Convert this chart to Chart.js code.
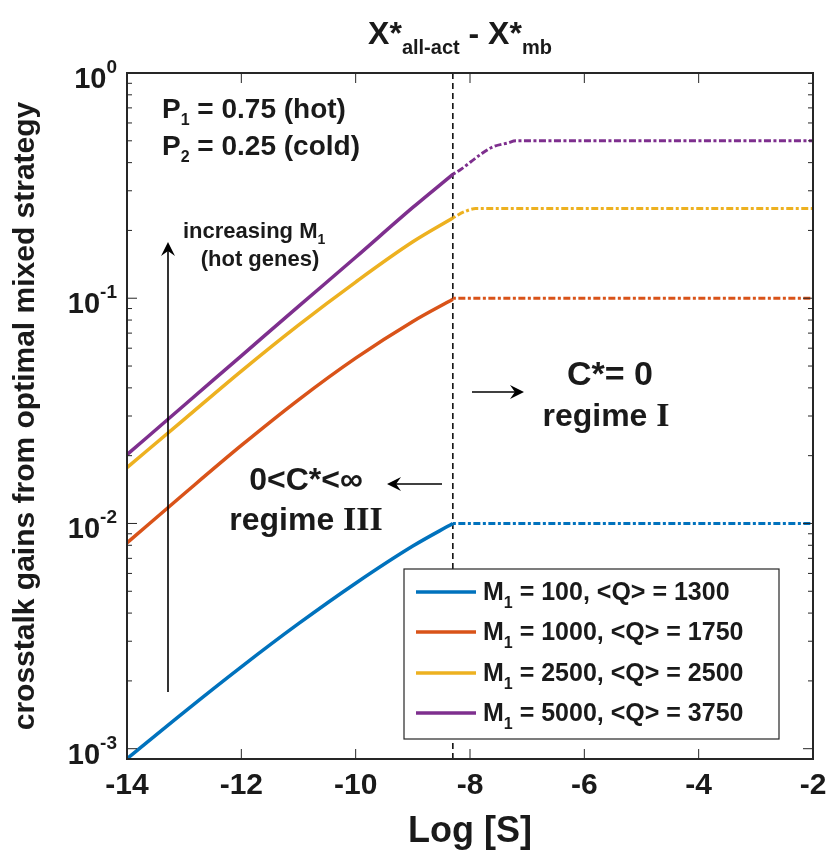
<!DOCTYPE html>
<html>
<head>
<meta charset="utf-8">
<script src="https://cdn.jsdelivr.net/npm/chart.js@4.4.1/dist/chart.umd.min.js"></script>
<style>
  html, body { margin: 0; padding: 0; background: #fff; }
  #wrap { width: 827px; height: 857px; }
</style>
</head>
<body>
<div id="wrap"><canvas id="gainsChart" width="827" height="857"></canvas></div>
<script>
// Log[S] grid for the 0 < C* < inf branch (solid)
const logS = [-14, -13, -12, -11, -10, -9, -8.3];
const gainM100 = [0.000903, 0.001455, 0.00231, 0.00359, 0.00543, 0.00794, 0.01];
const gainM1000 = [0.0082, 0.01355, 0.0222, 0.0354, 0.0542, 0.0789, 0.099];
const gainM2500 = [0.0177, 0.029, 0.0475, 0.076, 0.118, 0.178, 0.227];
const gainM5000 = [0.0202, 0.0335, 0.0555, 0.092, 0.152, 0.253, 0.355];

// C* = 0 branch (dotted)
const logSFlatM100 = [-8.3, -2];
const flatM100 = [0.01, 0.01];
const logSFlatM1000 = [-8.3, -2];
const flatM1000 = [0.1, 0.1];
const logSFlatM2500 = [-8.3, -8.1, -7.9, -2];
const flatM2500 = [0.227, 0.242, 0.25, 0.25];
const logSFlatM5000 = [-8.3, -8.175, -7.825, -7.6, -7.34, -7.2, -2];
const flatM5000 = [0.355, 0.371, 0.433, 0.47, 0.489, 0.5, 0.5];

const m1Values = [100, 1000, 2500, 5000];
const qValues = [1300, 1750, 2500, 3750];
const xTicks = [-14, -12, -10, -8, -6, -4, -2];
const yTickExponents = [-3, -2, -1, 0];
const switchLogS = -8.3;

const colors = ["#0072BD", "#D95319", "#EDB120", "#7E2F8E"];
const SANS = '"Liberation Sans", Arial, sans-serif';
const SERIF = '"Liberation Serif", "Times New Roman", serif';
const AXIS_COLOR = "#262626";

const toPoints = (xs, ys) => xs.map((x, i) => ({ x, y: ys[i] }));

const solidSeries = [gainM100, gainM1000, gainM2500, gainM5000];
const dottedSeries = [
    [logSFlatM100, flatM100],
    [logSFlatM1000, flatM1000],
    [logSFlatM2500, flatM2500],
    [logSFlatM5000, flatM5000],
];

const datasets = [];
solidSeries.forEach((ys, i) => {
    datasets.push({
        label: `M1 = ${m1Values[i]}, <Q> = ${qValues[i]}`,
        data: toPoints(logS, ys),
        borderColor: colors[i],
        borderWidth: 3.5,
        cubicInterpolationMode: "monotone",
        pointRadius: 0,
    });
});
dottedSeries.forEach(([xs, ys], i) => {
    datasets.push({
        label: "",
        data: toPoints(xs, ys),
        borderColor: colors[i],
        borderWidth: 3,
        borderDash: [3, 2.5, 7, 2.5],
        cubicInterpolationMode: "monotone",
        pointRadius: 0,
    });
});

// texto con subíndices / superíndices
function drawRich(ctx, segs, x, y, align) {
    let w = 0;
    segs.forEach((s) => {
        ctx.font = s.font;
        s.w = ctx.measureText(s.text).width;
        w += s.w;
    });
    let cx = align === "center" ? x - w / 2 : align === "right" ? x - w : x;
    ctx.textAlign = "left";
    ctx.textBaseline = "alphabetic";
    segs.forEach((s) => {
        ctx.font = s.font;
        ctx.fillText(s.text, cx, y + (s.dy || 0));
        cx += s.w;
    });
}

function arrowHead(ctx, tipX, tipY, dx, dy, len, half) {
    // punta tipo "stealth"
    const px = -dy, py = dx;
    ctx.beginPath();
    ctx.moveTo(tipX, tipY);
    ctx.lineTo(tipX - dx * len + px * half, tipY - dy * len + py * half);
    ctx.lineTo(tipX - dx * len * 0.65, tipY - dy * len * 0.65);
    ctx.lineTo(tipX - dx * len - px * half, tipY - dy * len - py * half);
    ctx.closePath();
    ctx.fill();
}

function arrow(ctx, x1, y1, x2, y2) {
    const L = Math.hypot(x2 - x1, y2 - y1);
    const dx = (x2 - x1) / L, dy = (y2 - y1) / L;
    ctx.strokeStyle = "#000";
    ctx.fillStyle = "#000";
    ctx.lineWidth = 1.6;
    ctx.beginPath();
    ctx.moveTo(x1, y1);
    ctx.lineTo(x2 - dx * 8, y2 - dy * 8);
    ctx.stroke();
    arrowHead(ctx, x2, y2, dx, dy, 14, 7);
}

const frame = {
    id: "frame",
    beforeDatasetsDraw(chart) {
        const { ctx, chartArea: a, scales } = chart;
        const xs = scales.x.getPixelForValue(switchLogS);
        ctx.save();
        ctx.strokeStyle = "#000";
        ctx.lineWidth = 1.5;
        ctx.setLineDash([6, 4]);
        ctx.beginPath();
        ctx.moveTo(xs, a.top);
        ctx.lineTo(xs, a.bottom);
        ctx.stroke();
        ctx.restore();
    },
    afterDatasetsDraw(chart) {
        const { ctx, chartArea: a, scales } = chart;
        const x = scales.x, y = scales.y;
        ctx.save();

        // caja de ejes
        ctx.strokeStyle = AXIS_COLOR;
        ctx.lineWidth = 2;
        ctx.strokeRect(a.left, a.top, a.right - a.left, a.bottom - a.top);

        // marcas hacia dentro
        ctx.lineWidth = 1;
        ctx.beginPath();
        xTicks.forEach((v) => {
            const px = x.getPixelForValue(v);
            ctx.moveTo(px, a.bottom); ctx.lineTo(px, a.bottom - 10);
            ctx.moveTo(px, a.top); ctx.lineTo(px, a.top + 10);
        });
        yTickExponents.forEach((e) => {
            for (let m = 1; m <= 9; m++) {
                const v = m * Math.pow(10, e);
                if (v < y.min || v > y.max) continue;
                const py = y.getPixelForValue(v);
                const len = m === 1 ? 10 : 5;
                ctx.moveTo(a.left, py); ctx.lineTo(a.left + len, py);
                ctx.moveTo(a.right, py); ctx.lineTo(a.right - len, py);
            }
        });
        ctx.stroke();

        ctx.fillStyle = "#1a1a1a";
        // etiquetas del eje x
        ctx.font = `bold 30px ${SANS}`;
        ctx.textAlign = "center";
        ctx.textBaseline = "alphabetic";
        xTicks.forEach((v) => ctx.fillText(String(v), x.getPixelForValue(v), 794));

        // etiquetas del eje y (10^n)
        yTickExponents.forEach((e) => {
            const py = y.getPixelForValue(Math.pow(10, e));
            drawRich(ctx, [
                { text: "10", font: `bold 29px ${SANS}` },
                { text: String(e), font: `bold 19px ${SANS}`, dy: -15 },
            ], 117, py + 15, "right");
        });

        // títulos
        ctx.font = `bold 36px ${SANS}`;
        ctx.textAlign = "center";
        ctx.fillText("Log [S]", (a.left + a.right) / 2, 842);

        ctx.save();
        ctx.translate(34, (a.top + a.bottom) / 2);
        ctx.rotate(-Math.PI / 2);
        ctx.font = `bold 30px ${SANS}`;
        ctx.textAlign = "center";
        ctx.fillText("crosstalk gains from optimal mixed strategy", 0, 0);
        ctx.restore();

        drawRich(ctx, [
            { text: "X*", font: `bold 32px ${SANS}` },
            { text: "all-act", font: `bold 20px ${SANS}`, dy: 10 },
            { text: " - X*", font: `bold 32px ${SANS}` },
            { text: "mb", font: `bold 20px ${SANS}`, dy: 10 },
        ], 460, 44, "center");

        // anotaciones
        ctx.fillStyle = "#1a1a1a";
        drawRich(ctx, [
            { text: "P", font: `bold 28px ${SANS}` },
            { text: "1", font: `bold 16px ${SANS}`, dy: 7 },
            { text: " = 0.75 (hot)", font: `bold 28px ${SANS}` },
        ], 162, 118, "left");
        drawRich(ctx, [
            { text: "P", font: `bold 28px ${SANS}` },
            { text: "2", font: `bold 16px ${SANS}`, dy: 7 },
            { text: " = 0.25 (cold)", font: `bold 28px ${SANS}` },
        ], 162, 155, "left");

        drawRich(ctx, [
            { text: "increasing M", font: `bold 22px ${SANS}` },
            { text: "1", font: `bold 14px ${SANS}`, dy: 6 },
        ], 183, 238, "left");
        drawRich(ctx, [{ text: "(hot genes)", font: `bold 22px ${SANS}` }], 260, 266, "center");

        drawRich(ctx, [{ text: "C*= 0", font: `bold 34px ${SANS}` }], 610, 385, "center");
        drawRich(ctx, [
            { text: "regime ", font: `bold 32px ${SANS}` },
            { text: "I", font: `bold 34px ${SERIF}` },
        ], 606, 426, "center");

        drawRich(ctx, [{ text: "0<C*<\u221E", font: `bold 32px ${SANS}` }], 306, 490, "center");
        drawRich(ctx, [
            { text: "regime ", font: `bold 32px ${SANS}` },
            { text: "III", font: `bold 34px ${SERIF}` },
        ], 306, 530, "center");

        arrow(ctx, 168, 692, 168, 242);
        arrow(ctx, 472, 392, 524, 392);
        arrow(ctx, 442, 484, 387, 484);

        // leyenda
        const box = { l: 404, t: 569, r: 779, b: 739 };
        ctx.fillStyle = "#fff";
        ctx.fillRect(box.l, box.t, box.r - box.l, box.b - box.t);
        ctx.strokeStyle = AXIS_COLOR;
        ctx.lineWidth = 1.2;
        ctx.strokeRect(box.l, box.t, box.r - box.l, box.b - box.t);
        const rows = [592, 632, 673, 713];
        m1Values.forEach((m, i) => {
            ctx.strokeStyle = colors[i];
            ctx.lineWidth = 3.5;
            ctx.beginPath();
            ctx.moveTo(416, rows[i]);
            ctx.lineTo(476, rows[i]);
            ctx.stroke();
            ctx.fillStyle = "#1a1a1a";
            drawRich(ctx, [
                { text: "M", font: `bold 25px ${SANS}` },
                { text: "1", font: `bold 16px ${SANS}`, dy: 8 },
                { text: ` = ${m}, <Q> = ${qValues[i]}`, font: `bold 25px ${SANS}` },
            ], 483, rows[i] + 8, "left");
        });

        ctx.restore();
    },
};

const ctx = document.getElementById("gainsChart").getContext("2d");
new Chart(ctx, {
    type: "line",
    data: { datasets },
    options: {
        responsive: false,
        animation: false,
        layout: { padding: { top: 73, right: 14, left: 0, bottom: 0 } },
        plugins: {
            legend: { display: false },
            tooltip: { enabled: false },
        },
        scales: {
            x: {
                type: "linear",
                min: -14,
                max: -2,
                grid: { display: false },
                border: { display: false },
                ticks: { display: false },
                afterFit(s) { s.height = 98; },
            },
            y: {
                type: "logarithmic",
                min: 0.0009,
                max: 1,
                grid: { display: false },
                border: { display: false },
                ticks: { display: false },
                afterFit(s) { s.width = 127; },
            },
        },
    },
    plugins: [frame],
});
</script>
</body>
</html>
